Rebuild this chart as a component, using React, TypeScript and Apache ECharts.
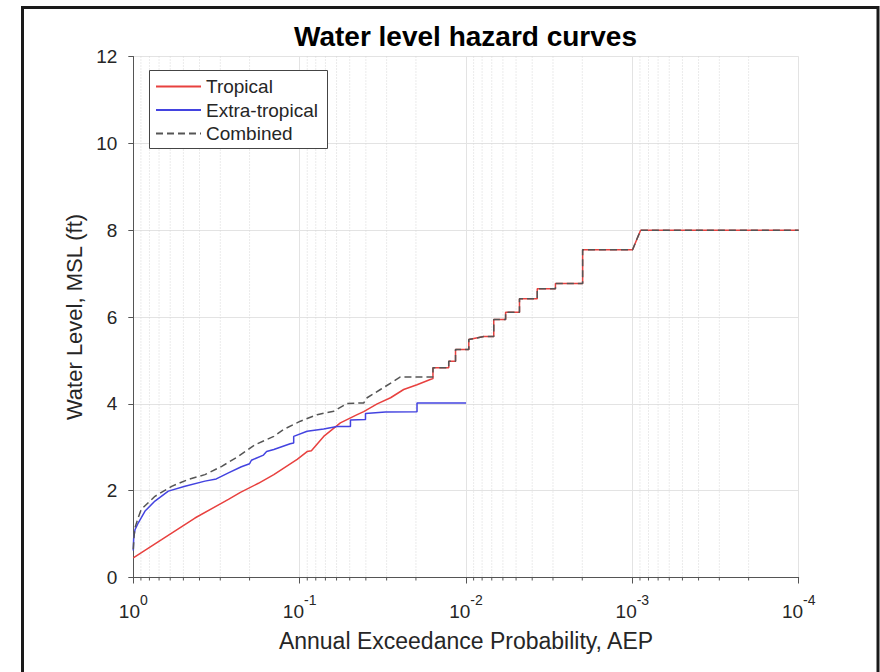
import React, { useEffect, useRef } from 'react';
import * as echarts from 'echarts';

const FONT = '"Liberation Sans", Arial, Helvetica, sans-serif';
const TEXT = '#262626';

const titleText = 'Water level hazard curves';
const xAxisName = 'Annual Exceedance Probability, AEP';
const yAxisName = 'Water Level, MSL (ft)';
const seriesNames = ['Tropical', 'Extra-tropical', 'Combined'];

// minor (2..9 x 10^k) vertical dotted grid positions
const minorAEP = [
  0.9, 0.8, 0.7, 0.6, 0.5, 0.4, 0.3, 0.2,
  0.09, 0.08, 0.07, 0.06, 0.05, 0.04, 0.03, 0.02,
  0.009, 0.008, 0.007, 0.006, 0.005, 0.004, 0.003, 0.002,
  0.0009, 0.0008, 0.0007, 0.0006, 0.0005, 0.0004, 0.0003, 0.0002,
];

// [AEP, water level ft]
const tropicalLower: [number, number][] = [
  [1.0, 0.45], [0.676, 0.87], [0.426, 1.37], [0.268, 1.8], [0.227, 1.96],
  [0.177, 2.17], [0.143, 2.37], [0.1035, 2.72], [0.0902, 2.9], [0.085, 2.92],
  [0.0717, 3.25], [0.0569, 3.56], [0.0451, 3.75], [0.0412, 3.82], [0.0342, 4.0],
  [0.0284, 4.14], [0.0237, 4.33], [0.0197, 4.44], [0.0164, 4.56], [0.0158, 4.58],
];

const extraTropical: [number, number][] = [
  [1.0, 0.62], [0.995, 0.9], [0.977, 1.1], [0.933, 1.26], [0.85, 1.53],
  [0.741, 1.76], [0.616, 1.99], [0.489, 2.1], [0.371, 2.22], [0.317, 2.27],
  [0.268, 2.41], [0.224, 2.55], [0.2, 2.62], [0.195, 2.7], [0.165, 2.82],
  [0.158, 2.9], [0.143, 2.95], [0.114, 3.08], [0.1086, 3.1], [0.1086, 3.25],
  [0.0902, 3.37], [0.0717, 3.42], [0.0595, 3.48], [0.0495, 3.48], [0.0495, 3.63],
  [0.0402, 3.64], [0.0402, 3.78], [0.0305, 3.81], [0.0197, 3.82], [0.0197, 4.02],
  [0.01, 4.02],
];

const combinedLower: [number, number][] = [
  [1.0, 0.65], [0.99, 0.95], [0.977, 1.15], [0.93, 1.4], [0.895, 1.57],
  [0.741, 1.87], [0.588, 2.1], [0.467, 2.26], [0.371, 2.37], [0.294, 2.56],
  [0.2335, 2.79], [0.185, 3.06], [0.143, 3.25], [0.1247, 3.41], [0.099, 3.6],
  [0.0785, 3.75], [0.0624, 3.83], [0.0518, 4.01], [0.0412, 4.02], [0.0393, 4.14],
  [0.0327, 4.33], [0.0272, 4.52], [0.0248, 4.62], [0.0158, 4.62],
];

// staircase shared by Tropical and Combined at rare AEPs
const sharedUpper: [number, number][] = [
  [0.0158, 4.83], [0.0127, 4.83], [0.0127, 4.98], [0.01156, 4.98], [0.01156, 5.25],
  [0.00962, 5.25], [0.00962, 5.48], [0.00782, 5.55], [0.00681, 5.55], [0.00681, 5.94],
  [0.00578, 5.94], [0.00578, 6.11], [0.00477, 6.11], [0.00477, 6.42], [0.00373, 6.42],
  [0.00373, 6.65], [0.0029, 6.65], [0.0029, 6.77], [0.00199, 6.77], [0.00199, 7.55],
  [0.000997, 7.55], [0.000892, 8.0], [0.0001, 8.0],
];

const tropical = [...tropicalLower, ...sharedUpper];
const combined = [...combinedLower, ...sharedUpper];

export default function App() {
  const ref = useRef<HTMLDivElement>(null);
  useEffect(() => {
    const chart = echarts.init(ref.current!, null, { renderer: 'svg' });
    const option: any = {
      animation: false,
      backgroundColor: '#ffffff',
      textStyle: { fontFamily: FONT },
      grid: { left: 133.3, right: 81.3, top: 56.5, bottom: 94.5, containLabel: false },
      legend: {
        data: seriesNames,
        orient: 'vertical',
        left: 155,
        top: 77,
        padding: 0,
        itemWidth: 45,
        itemHeight: 14,
        itemGap: 4.5,
        z: 10,
        selectedMode: false,
        itemStyle: { opacity: 0 },
        textStyle: { fontFamily: FONT, fontSize: 19, color: TEXT },
      },
      xAxis: {
        type: 'log',
        logBase: 10,
        min: 0.0001,
        max: 1,
        inverse: true,
        name: xAxisName,
        nameLocation: 'middle',
        nameGap: 52,
        nameTextStyle: { fontFamily: FONT, fontSize: 23, color: TEXT },
        axisLine: { onZero: false, lineStyle: { color: '#555', width: 1 } },
        axisTick: { show: true, length: 6, lineStyle: { color: '#555' } },
        splitLine: { show: true, lineStyle: { color: '#e3e3e3', width: 1 } },
        axisLabel: {
          margin: 15,
          formatter: (v: number) => '{b|10}{s|' + Math.round(Math.log10(v)) + '}',
          rich: {
            b: { fontFamily: FONT, fontSize: 19, color: TEXT, lineHeight: 28, verticalAlign: 'bottom' },
            s: { fontFamily: FONT, fontSize: 14, color: TEXT, lineHeight: 28, verticalAlign: 'top' },
          },
        },
      },
      yAxis: {
        type: 'value',
        min: 0,
        max: 12,
        interval: 2,
        name: yAxisName,
        nameLocation: 'middle',
        nameGap: 37,
        nameTextStyle: { fontFamily: FONT, fontSize: 22, color: TEXT },
        axisLine: { show: true, onZero: false, lineStyle: { color: '#555', width: 1 } },
        axisTick: { show: true, length: 5, lineStyle: { color: '#555' } },
        splitLine: { show: true, lineStyle: { color: '#e3e3e3', width: 1 } },
        axisLabel: { margin: 16, fontFamily: FONT, fontSize: 19, color: TEXT },
      },
      graphic: {
        elements: [
          {
            type: 'rect',
            z: 3,
            shape: { x: 149.5, y: 70.5, width: 178, height: 78 },
            style: { fill: '#ffffff', stroke: '#444', lineWidth: 1 },
          },
          {
            type: 'text',
            z: 10,
            x: 465.5,
            y: 36,
            style: {
              text: titleText,
              fontFamily: FONT,
              fontSize: 28,
              fontWeight: 'bold',
              fill: '#000',
              textAlign: 'center',
              textVerticalAlign: 'middle',
            },
          },
          {
            type: 'rect',
            z: 20,
            shape: { x: 22.5, y: 7.5, width: 855.5, height: 700 },
            style: { fill: 'none', stroke: '#1a1a1a', lineWidth: 3 },
          },
        ],
      },
      series: [
        {
          name: 'minor',
          type: 'custom',
          silent: true,
          clip: false,
          z: 1,
          data: minorAEP.map((v) => [v, 0]),
          encode: { x: 0, y: 1 },
          renderItem: (_p: any, api: any) => {
            const x = api.value(0);
            const top = api.coord([x, 12]);
            const bot = api.coord([x, 0]);
            return {
              type: 'group',
              children: [
                {
                  type: 'line',
                  shape: { x1: top[0], y1: top[1], x2: bot[0], y2: bot[1] },
                  style: { stroke: '#d6d6d6', lineWidth: 1, lineDash: [1, 2] },
                },
                {
                  type: 'line',
                  shape: { x1: bot[0], y1: bot[1], x2: bot[0], y2: bot[1] + 3 },
                  style: { stroke: '#555', lineWidth: 1 },
                },
              ],
            };
          },
        },
        {
          name: 'Tropical',
          type: 'line',
          data: tropical,
          symbol: 'none',
          z: 5,
          lineStyle: { color: '#e8413f', width: 1.5 },
          itemStyle: { color: '#e8413f' },
        },
        {
          name: 'Extra-tropical',
          type: 'line',
          data: extraTropical,
          symbol: 'none',
          z: 5,
          lineStyle: { color: '#4343e0', width: 1.5 },
          itemStyle: { color: '#4343e0' },
        },
        {
          name: 'Combined',
          type: 'line',
          data: combined,
          symbol: 'none',
          z: 6,
          lineStyle: { color: '#555555', width: 1.5, type: [7, 4] },
          itemStyle: { color: '#555555' },
        },
      ],
    };
    chart.setOption(option);
    return () => chart.dispose();
  }, []);
  return (
    <div
      ref={ref}
      style={{ position: 'fixed', left: 0, top: 0, width: 880, height: 672, background: '#fff' }}
    />
  );
}
